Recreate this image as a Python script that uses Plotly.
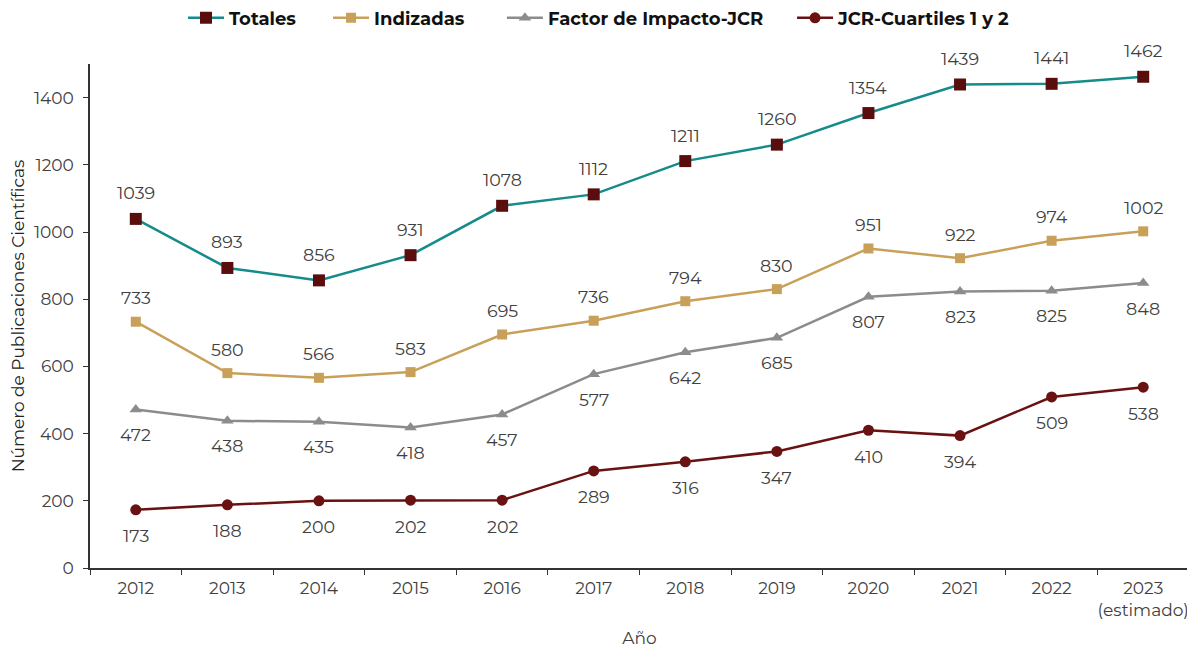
import plotly.graph_objects as go

# Datos
anios = ["2012", "2013", "2014", "2015", "2016", "2017", "2018", "2019", "2020", "2021", "2022", "2023<br>(estimado)"]
totales = [1039, 893, 856, 931, 1078, 1112, 1211, 1260, 1354, 1439, 1441, 1462]
indizadas = [733, 580, 566, 583, 695, 736, 794, 830, 951, 922, 974, 1002]
factor_jcr = [472, 438, 435, 418, 457, 577, 642, 685, 807, 823, 825, 848]
cuartiles = [173, 188, 200, 202, 202, 289, 316, 347, 410, 394, 509, 538]

font_family = "Montserrat, Open Sans, sans-serif"
text_color = "#404040"

fig = go.Figure()


def add_serie(nombre, valores, color_linea, color_marker, simbolo, size, shift, legend):
    fig.add_trace(go.Scatter(
        x=anios, y=valores, name=nombre,
        mode="lines+markers",
        line=dict(color=color_linea, width=2.5),
        marker=dict(symbol=simbolo, size=size, color=color_marker),
        legend=legend, showlegend=True,
        cliponaxis=False,
    ))
    # etiquetas de valores (x por índice de categoría)
    for i, v in enumerate(valores):
        fig.add_annotation(x=i, y=v, text=str(v), showarrow=False, yshift=shift,
                           font=dict(size=17.5, color=text_color, family=font_family))


add_serie("Totales", totales, "#158b8b", "#5a0d0d", "square", 12, 26, "legend")
add_serie("Indizadas", indizadas, "#c9a059", "#c9a059", "square", 10, 24, "legend2")
add_serie("Factor de Impacto-JCR", factor_jcr, "#8c8c8c", "#8c8c8c", "triangle-up", 11, -25, "legend3")
add_serie("JCR-Cuartiles 1 y 2", cuartiles, "#6a1212", "#6a1212", "circle", 11, -26, "legend4")

leg_font = dict(size=18, color="#111111", family=font_family, weight="bold")
leg_common = dict(orientation="h", xanchor="left", y=1.091, yanchor="middle",
                  font=leg_font, itemwidth=36, bgcolor="rgba(0,0,0,0)", visible=True)

fig.update_layout(
    width=1187, height=642,
    margin=dict(l=82, r=6, t=56, b=82, autoexpand=False),
    plot_bgcolor="white", paper_bgcolor="white",
    font=dict(family=font_family, color=text_color, size=17),
    showlegend=True,
    legend=dict(x=0.0846, **leg_common),
    legend2=dict(x=0.2166, **leg_common),
    legend3=dict(x=0.3748, **leg_common),
    legend4=dict(x=0.6388, **leg_common),
    xaxis=dict(
        title=dict(text="Año", font=dict(size=17, color=text_color), standoff=13),
        range=[-0.5, 11.5],
        showline=True, linecolor="#333333", linewidth=1.5,
        ticks="outside", tickson="boundaries", ticklen=5, tickcolor="#333333",
        tickfont=dict(size=17, color=text_color), tickangle=0, ticklabelstandoff=4,
        showgrid=False, automargin=False,
    ),
    yaxis=dict(
        title=dict(text="Número de Publicaciones Científicas", font=dict(size=17, color="#222222"), standoff=12),
        range=[0, 1500], tickvals=[0, 200, 400, 600, 800, 1000, 1200, 1400],
        showline=True, linecolor="#333333", linewidth=1.5,
        ticks="outside", ticklen=5, tickcolor="#333333",
        tickfont=dict(size=17, color=text_color), ticklabelstandoff=6,
        showgrid=False, zeroline=False, automargin=False,
    ),
)

fig.write_html("out.html")
